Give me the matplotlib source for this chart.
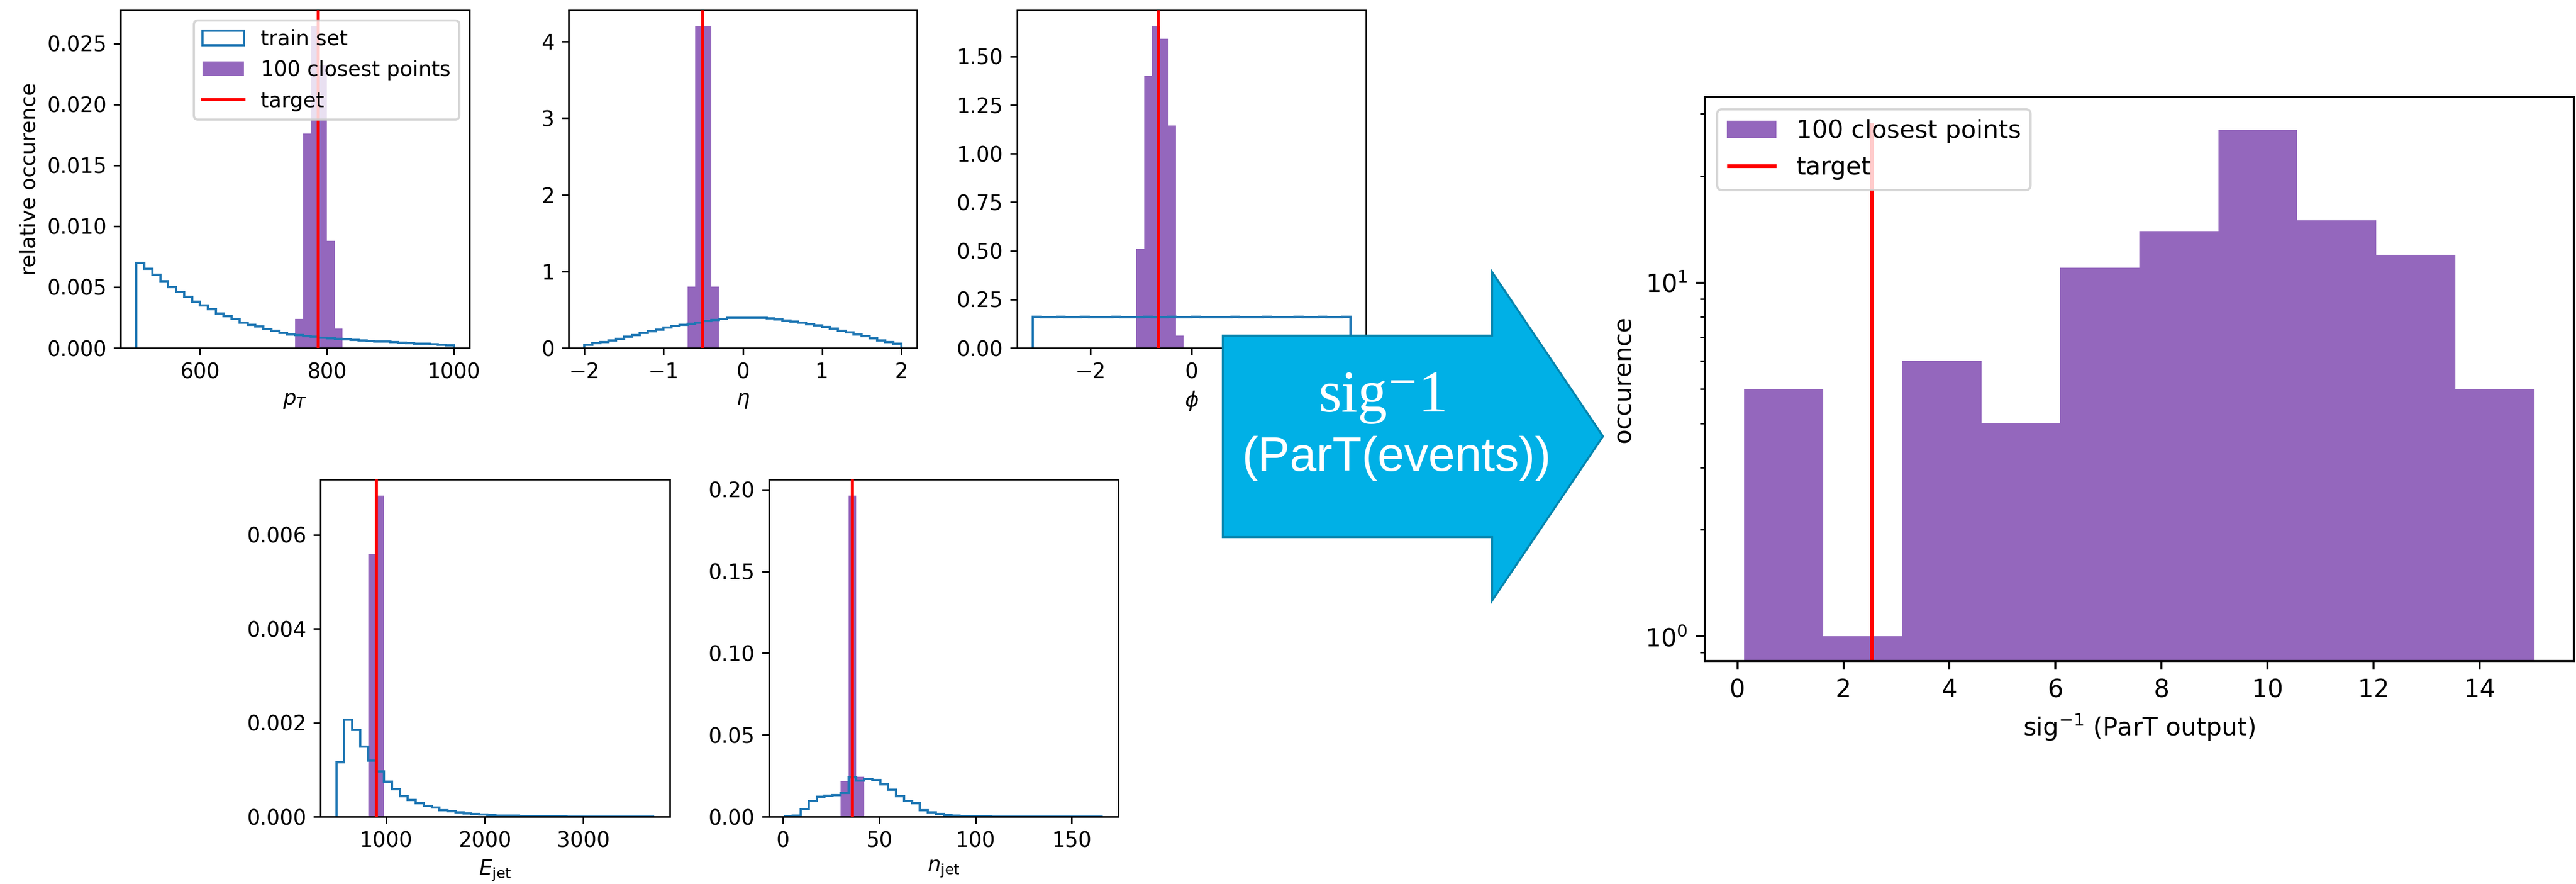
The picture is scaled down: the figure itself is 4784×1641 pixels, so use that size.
import numpy as np
import matplotlib
matplotlib.use("Agg")
import matplotlib.pyplot as plt
from matplotlib.patches import Polygon
from matplotlib.ticker import MultipleLocator

W, H, DPI = 4784, 1641, 300
N_BINS = 40
FS = 9.3  # font size of the small feature panels

# --- values ---
pt_range = (500, 1000)
pt_train = [0.0070, 0.0065, 0.0060, 0.0055, 0.0050, 0.0046, 0.0042, 0.0038, 0.0035, 0.0032,
            0.00285, 0.0026, 0.0024, 0.0021, 0.0019, 0.00175, 0.00155, 0.0014, 0.00125, 0.00112,
            0.00105, 0.00098, 0.00092, 0.00086, 0.00081, 0.00076, 0.00071, 0.00067, 0.00063, 0.00059,
            0.00055, 0.00051, 0.00047, 0.00044, 0.00041, 0.00037, 0.00034, 0.00030, 0.00026, 0.00022]
pt_close_start = 20
pt_close_counts = [3, 22, 33, 29, 11, 2]
pt_target = 786.3

eta_range = (-2, 2)
eta_train = [0.043, 0.060, 0.080, 0.100, 0.120, 0.146, 0.166, 0.195, 0.218, 0.242,
             0.265, 0.285, 0.305, 0.318, 0.331, 0.351, 0.368, 0.381, 0.391, 0.397,
             0.397, 0.397, 0.391, 0.384, 0.374, 0.361, 0.344, 0.328, 0.311, 0.295,
             0.275, 0.255, 0.228, 0.202, 0.179, 0.152, 0.126, 0.099, 0.076, 0.053]
eta_close_start = 13
eta_close_counts = [8, 42, 42, 8]
eta_target = -0.505

phi_range = (-np.pi, np.pi)
phi_train = [0.160, 0.158, 0.159, 0.160, 0.159, 0.158, 0.160, 0.159, 0.158, 0.159,
             0.160, 0.159, 0.158, 0.159, 0.160, 0.159, 0.159, 0.160, 0.158, 0.159,
             0.160, 0.159, 0.158, 0.159, 0.159, 0.160, 0.159, 0.158, 0.159, 0.160,
             0.159, 0.158, 0.159, 0.160, 0.159, 0.159, 0.160, 0.159, 0.158, 0.160]
phi_close_start = 13
phi_close_counts = [8, 22, 26, 25, 18, 1]
phi_target = -0.657

ejet_range = (497, 3715)
ejet_train = [0.00116, 0.00206, 0.00185, 0.00149, 0.00119, 0.00096, 0.00075, 0.00058, 0.00044, 0.00035,
              0.00029, 0.00023, 0.00019, 0.00014, 0.00011, 0.000088, 0.00007, 0.000053, 0.000041, 0.000035,
              0.000028, 0.000022, 0.000018, 0.000015, 0.000012, 0.00001, 0.000008, 0.000007, 0.000006, 0.000005,
              0.000004, 0.0000035, 0.000003, 0.0000025, 0.000002, 0.0000018, 0.0000015, 0.0000012, 0.000001, 0.0000008]
ejet_close_start = 4
ejet_close_counts = [45, 55]
ejet_target = 906

njet_range = (1, 166)
njet_train = [0.0002, 0.0008, 0.0047, 0.0097, 0.0123, 0.0128, 0.0133, 0.0146, 0.0239, 0.0220,
              0.0232, 0.0224, 0.0197, 0.0165, 0.0126, 0.0094, 0.0081, 0.0039, 0.0025, 0.0015,
              0.0010, 0.0006, 0.0004, 0.0003, 0.00025, 0.0002, 0.00015, 0.00012, 0.0001, 0.00008,
              0.00006, 0.00005, 0.00004, 0.00003, 0.00003, 0.00002, 0.00002, 0.00001, 0.00001, 0.00001]
njet_close_start = 7
njet_close_counts = [9, 81, 10]
njet_target = 36

sig_range = (0.13, 15.03)
sig_counts = [5, 1, 6, 4, 11, 14, 27, 15, 12, 5]
sig_target = 2.53


def px_rect(x0, x1, y0, y1):
    return [x0 / W, 1 - y1 / H, (x1 - x0) / W, (y1 - y0) / H]


def feature_panel(ax, rng, train, close_start, close_counts, target, xlabel, xstep, ystep):
    edges = np.linspace(rng[0], rng[1], N_BINS + 1)
    centers = 0.5 * (edges[:-1] + edges[1:])
    counts = np.zeros(N_BINS)
    counts[close_start:close_start + len(close_counts)] = close_counts

    _, _, tr = ax.hist(centers, bins=edges, weights=train, histtype="step",
                       color="tab:blue", lw=1.0, zorder=2)
    _, _, cl = ax.hist(centers, bins=edges, weights=counts, density=True,
                       color="tab:purple", zorder=1)
    ln = ax.axvline(target, color="red", lw=1.35, zorder=3)

    ax.xaxis.set_major_locator(MultipleLocator(xstep))
    ax.yaxis.set_major_locator(MultipleLocator(ystep))
    ax.set_xlabel(xlabel, fontsize=FS, labelpad=3.2)
    ax.tick_params(labelsize=FS, length=3.15, width=0.72, pad=3.1)
    for s in ax.spines.values():
        s.set_linewidth(0.72)
    return tr[0], cl[0], ln


fig = plt.figure(figsize=(W / DPI, H / DPI), dpi=DPI)

ax_pt = fig.add_axes(px_rect(224, 872, 19, 646))
ax_eta = fig.add_axes(px_rect(1056, 1703, 19, 646))
ax_phi = fig.add_axes(px_rect(1889, 2537, 19, 646))
ax_e = fig.add_axes(px_rect(595, 1244, 890, 1516))
ax_n = fig.add_axes(px_rect(1428, 2077, 890, 1516))
ax_sig = fig.add_axes(px_rect(3166, 4780, 180, 1227))

h = feature_panel(ax_pt, pt_range, pt_train, pt_close_start, pt_close_counts, pt_target,
                  r"$p_T$", 200, 0.005)
ax_pt.set_ylabel("relative occurence", fontsize=FS, labelpad=3.2)
ax_pt.legend(h, ["train set", "100 closest points", "target"], loc="upper right", fontsize=FS)

feature_panel(ax_eta, eta_range, eta_train, eta_close_start, eta_close_counts, eta_target,
              r"$\eta$", 1, 1)
feature_panel(ax_phi, phi_range, phi_train, phi_close_start, phi_close_counts, phi_target,
              r"$\phi$", 2, 0.25)
feature_panel(ax_e, ejet_range, ejet_train, ejet_close_start, ejet_close_counts, ejet_target,
              r"$E_\mathrm{jet}$", 1000, 0.002)
feature_panel(ax_n, njet_range, njet_train, njet_close_start, njet_close_counts, njet_target,
              r"$n_\mathrm{jet}$", 50, 0.05)

# right panel: ParT output of the closest points
sig_edges = np.linspace(sig_range[0], sig_range[1], len(sig_counts) + 1)
sig_centers = 0.5 * (sig_edges[:-1] + sig_edges[1:])
ax_sig.hist(sig_centers, bins=sig_edges, weights=sig_counts, log=True,
            color="tab:purple", label="100 closest points")
ax_sig.vlines(sig_target, 0, 1.05 * max(sig_counts), color="red", lw=1.65, label="target")
ax_sig.set_ylim(0.851, 33.5)
ax_sig.xaxis.set_major_locator(MultipleLocator(2))
ax_sig.set_xlabel(r"sig$^{-1}$ (ParT output)", fontsize=11, labelpad=4.4)
ax_sig.set_ylabel("occurence", fontsize=11, labelpad=4.4)
ax_sig.tick_params(which="major", labelsize=11, length=3.85, width=0.88, pad=3.85)
ax_sig.tick_params(which="minor", length=2.2, width=0.66)
for s in ax_sig.spines.values():
    s.set_linewidth(0.88)
ax_sig.legend(loc="upper left", fontsize=11)

# arrow in between
arrow_px = [(2271, 623), (2771, 623), (2771, 505), (2977, 810),
            (2771, 1115), (2771, 997), (2271, 997)]
arrow = Polygon([(x / W, 1 - y / H) for x, y in arrow_px], closed=True,
                transform=fig.transFigure, facecolor="#00b0e6", edgecolor="#0584ad",
                lw=0.9, zorder=5)
fig.add_artist(arrow)
fig.text(2569 / W, 1 - 764 / H, "sig\u207b1", fontsize=26.3, color="white",
         family=["Liberation Serif", "DejaVu Serif"], ha="center", va="baseline", zorder=6)
fig.text(2594 / W, 1 - 874 / H, "(ParT(events))", fontsize=21.4, color="white",
         family="Liberation Sans", ha="center", va="baseline", zorder=6)

fig.savefig("out.png", dpi=DPI)
